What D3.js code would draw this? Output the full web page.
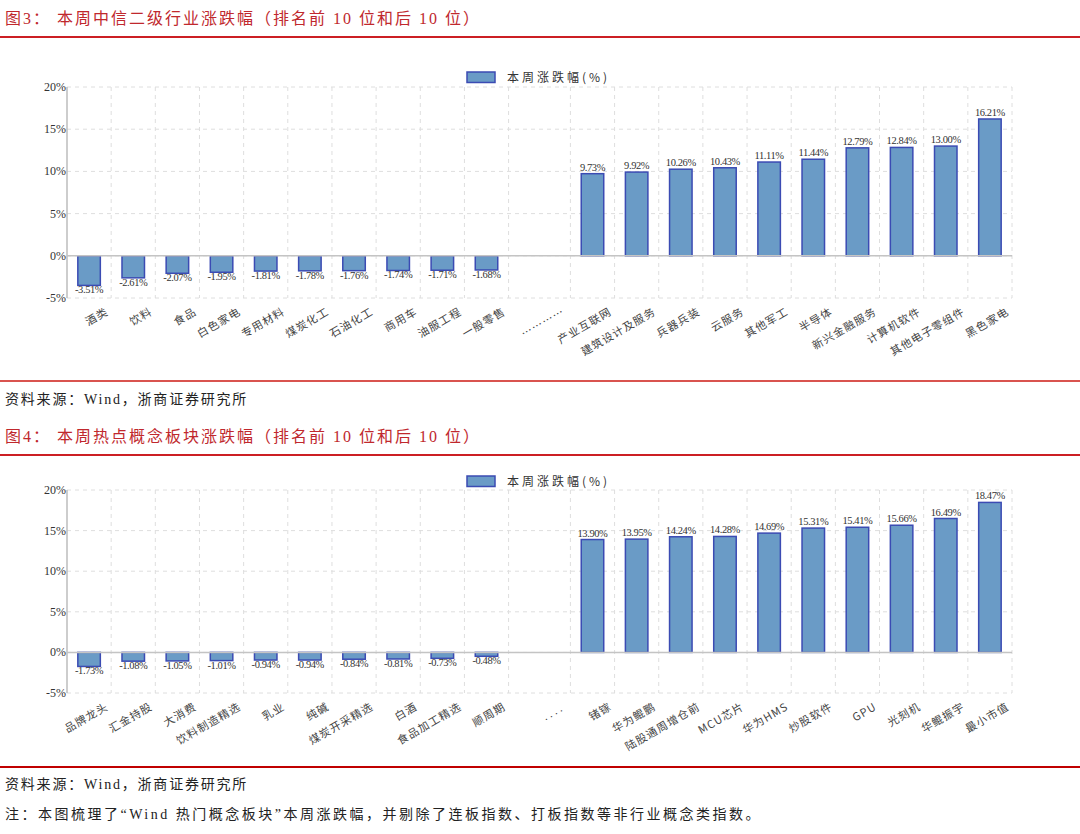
<!DOCTYPE html>
<html><head><meta charset="utf-8">
<script src="https://cdn.jsdelivr.net/npm/d3@7"></script>
<style>body{margin:0;background:#fff}</style>
</head><body><svg id="c" width="1080" height="834"></svg>
<script>
const cats1 = ["酒类","饮料","食品","白色家电","专用材料","煤炭化工","石油化工","商用车","油服工程","一般零售","…………","产业互联网","建筑设计及服务","兵器兵装","云服务","其他军工","半导体","新兴金融服务","计算机软件","其他电子零组件","黑色家电"];
const vals1 = [-3.51,-2.61,-2.07,-1.95,-1.81,-1.78,-1.76,-1.74,-1.71,-1.68,null,9.73,9.92,10.26,10.43,11.11,11.44,12.79,12.84,13.00,16.21];
const cats2 = ["品牌龙头","汇金持股","大消费","饮料制造精选","乳业","纯碱","煤炭开采精选","白酒","食品加工精选","顺周期","....","锗镓","华为鲲鹏","陆股通周增仓前","MCU芯片","华为HMS","炒股软件","GPU","光刻机","华鲲振宇","最小市值"];
const vals2 = [-1.73,-1.08,-1.05,-1.01,-0.94,-0.94,-0.84,-0.81,-0.73,-0.48,null,13.90,13.95,14.24,14.28,14.69,15.31,15.41,15.66,16.49,18.47];
const yTicks = [-5,0,5,10,15,20];
const legendLabel = "本周涨跌幅(%)";
const title1 = "图3： 本周中信二级行业涨跌幅（排名前 10 位和后 10 位）";
const title2 = "图4： 本周热点概念板块涨跌幅（排名前 10 位和后 10 位）";
const sourceText = "资料来源：Wind，浙商证券研究所";
const noteText = "注：本图梳理了“Wind 热门概念板块”本周涨跌幅，并剔除了连板指数、打板指数等非行业概念类指数。";

const svg = d3.select("#c");
const CJK = "'Liberation Serif','Noto Sans CJK SC',serif";
const SERIF = "'Liberation Serif','Times New Roman',serif";
const FILL = "#6a9bc6", STROKE = "#3b4bb3";

function hline(y, color, w){
  svg.append("line").attr("x1",0).attr("x2",1080).attr("y1",y).attr("y2",y)
    .attr("stroke",color).attr("stroke-width",w);
}
function txt(x,y,s,size,color,ls){
  svg.append("text").attr("x",x).attr("y",y).text(s)
    .attr("font-family",CJK).attr("font-size",size).attr("fill",color)
    .attr("letter-spacing",ls);
}

function drawChart(cats, vals, yTop, yBot, legendY){
  const L = 67, R = 1012;
  const units = cats.map((c,i)=> vals[i]===null ? 1.4 : 1);
  const starts = []; let acc = 0;
  units.forEach(u=>{starts.push(acc); acc+=u;});
  const xu = d3.scaleLinear().domain([0,acc]).range([L,R]);
  const y = d3.scaleLinear().domain([-5,20]).range([yBot,yTop]);
  const g = svg.append("g");
  g.selectAll(".hg").data(yTicks).join("line")
    .attr("x1",L).attr("x2",R).attr("y1",d=>y(d)).attr("y2",d=>y(d))
    .attr("stroke","#dedede").attr("stroke-dasharray","4,4").attr("stroke-width",1);
  const bounds = starts.slice(1).concat([acc]);
  g.selectAll(".vg").data(bounds).join("line")
    .attr("x1",d=>xu(d)).attr("x2",d=>xu(d)).attr("y1",yTop).attr("y2",yBot)
    .attr("stroke","#dedede").attr("stroke-dasharray","4,4").attr("stroke-width",1);
  g.append("line").attr("x1",L).attr("x2",L).attr("y1",yTop).attr("y2",yBot)
    .attr("stroke","#bdbdbd").attr("stroke-width",1.5);
  g.selectAll(".yt").data(yTicks).join("text")
    .attr("x",L-1).attr("y",d=>y(d)+4).attr("text-anchor","end")
    .attr("font-family",SERIF).attr("font-size",12).attr("fill","#333")
    .text(d=>d+"%");
  const bw = 22.5;
  const center = i => xu(starts[i]+units[i]/2);
  const idx = d3.range(cats.length).filter(i=>vals[i]!==null);
  g.selectAll(".bar").data(idx).join("rect")
    .attr("x",i=>center(i)-bw/2).attr("width",bw)
    .attr("y",i=>Math.min(y(vals[i]),y(0))).attr("height",i=>Math.abs(y(vals[i])-y(0)))
    .attr("fill",FILL).attr("stroke",STROKE).attr("stroke-width",1.5);
  g.append("line").attr("x1",L).attr("x2",R).attr("y1",y(0)).attr("y2",y(0))
    .attr("stroke","#c4c4c4").attr("stroke-width",1.5);
  g.selectAll(".vl").data(idx).join("text")
    .attr("x",i=>center(i)).attr("y",i=>vals[i]<0 ? y(vals[i])+8 : y(vals[i])-3)
    .attr("text-anchor","middle").attr("font-family",SERIF).attr("font-size",10.5)
    .attr("letter-spacing",-0.4).attr("fill","#333")
    .text(i=>vals[i].toFixed(2)+"%");
  g.selectAll(".xl").data(d3.range(cats.length)).join("text")
    .attr("transform",i=>`translate(${center(i)+(vals[i]===null?26:20)},${yBot+16}) rotate(-30)`)
    .attr("text-anchor","end")
    .attr("font-family",i=>/^\.+$/.test(cats[i]) ? SERIF : "'Noto Sans CJK SC',sans-serif")
    .attr("font-size",11).attr("letter-spacing",i=>/^\.+$/.test(cats[i]) ? 3 : 1).attr("fill","#444")
    .text(i=>cats[i]);
  g.append("rect").attr("x",467).attr("y",legendY).attr("width",28).attr("height",10.5)
    .attr("fill",FILL).attr("stroke",STROKE).attr("stroke-width",1.5);
  g.append("text").attr("x",507).attr("y",legendY+10).text(legendLabel)
    .attr("font-family","'Noto Sans CJK SC',sans-serif").attr("font-size",12)
    .attr("letter-spacing",3).attr("fill","#333");
}

txt(5,24,title1,16,"#c0282d",2);
hline(37,"#cc1f24",2.2);
drawChart(cats1, vals1, 87, 298, 72);
hline(381,"#d9534f",2);
txt(5,404,sourceText,14,"#222",1.8);
txt(5,442,title2,16,"#c0282d",2);
hline(455,"#cc1f24",2.2);
drawChart(cats2, vals2, 490, 693, 476);
hline(767,"#c00000",2.2);
txt(5,789,sourceText,14,"#222",1.8);
txt(5,819,noteText,14,"#222",2.5);
</script></body></html>
